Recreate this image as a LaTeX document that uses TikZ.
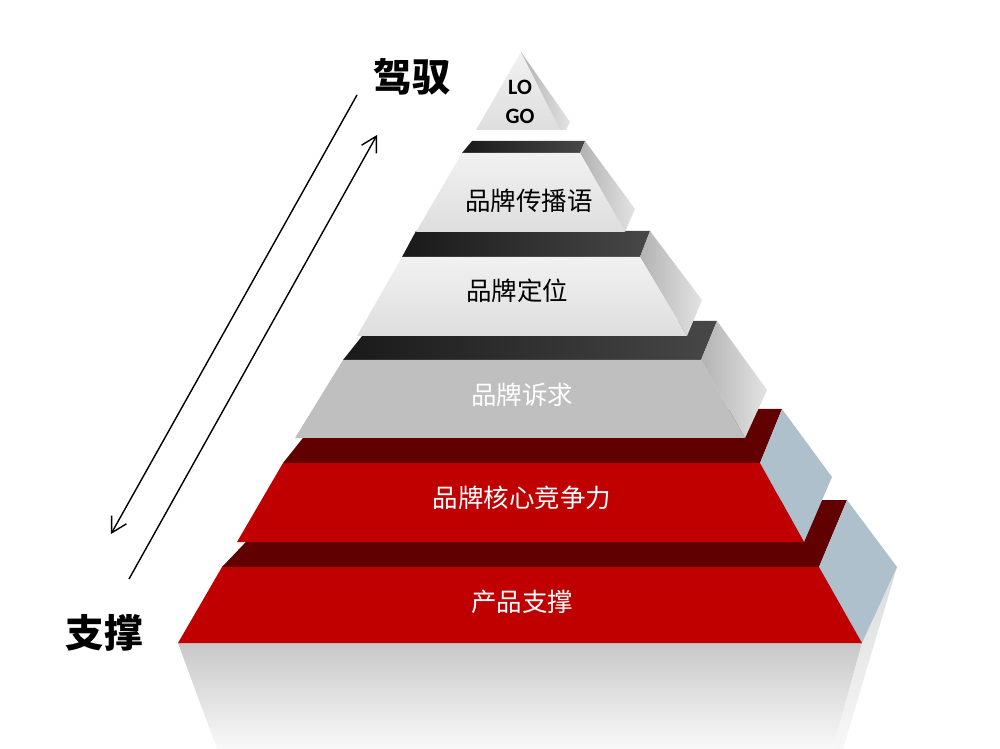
\documentclass[tikz,border=0pt]{standalone}
\usepackage{fontspec}
\usetikzlibrary{arrows.meta}
\setmainfont{Carlito}
\IfFontExistsTF{FandolSong-Regular.otf}
  {\newfontfamily\songti{FandolSong-Regular.otf}}
  {\newfontfamily\songti{Noto Sans CJK SC}}
\newfontfamily\heiti{Noto Sans CJK SC}
\definecolor{brandred}{RGB}{192,0,0}
\definecolor{darkred}{RGB}{96,0,0}
\definecolor{steelside}{RGB}{173,192,204}
\definecolor{paleA}{RGB}{241,241,241}
\definecolor{paleB}{RGB}{222,222,222}
\definecolor{midgrey}{RGB}{191,191,191}
\definecolor{mirrorA}{RGB}{200,200,200}
\definecolor{mirrorB}{RGB}{249,249,249}

\begin{document}
\begin{tikzpicture}[x=0.02cm,y=-0.02cm,>={Straight Barb[length=3mm,width=3.4mm]},
  lightfront/.style={top color=paleA,bottom color=paleB},
  greyfront/.style={fill=midgrey},
  greytop/.style={left color=black!90,right color=black!72},
  greyside/.style={left color=black!30,right color=black!11},
  redfront/.style={fill=brandred},
  redtop/.style={fill=darkred},
  redside/.style={fill=steelside},
  tier/.style={font=\songti\fontsize{14.5}{17}\selectfont},
  motto/.style={font=\heiti\bfseries\fontsize{22}{26}\selectfont},
  guide/.style={line width=0.8pt,->}]
  \useasboundingbox (0,0) rectangle (1000,749);
  % ---------------- reflection ----------------
  \shade[top color=mirrorA,bottom color=mirrorB] (178,643) -- (862,643) -- (833,749) -- (217,749) -- cycle;
  \shade[top color=black!14,bottom color=black!3] (897,567) -- (843,749) -- (833,749) -- (862,643) -- cycle;
  % ---------------- tiers, bottom first ----------------
  \foreach \tl/\tr/\bl/\br/\yt/\yb/\ktl/\ktr/\yk/\sx/\sy/\fr/\tp/\sd in {
      222/819/178/862/567/643/286/847/500/897/567/redfront/redtop/redside,
      283/760/237/804/463/542/326/782/409/832/477/redfront/redtop/redside,
      343/701/295/745/360/438/374/717/321/767/390/greyfront/greytop/greyside,
      402/640/357/687/257/336/416/650/231/702/300/lightfront/greytop/greyside,
      462/580/416/625/153/232/472/585/141/635/209/lightfront/greytop/greyside}{
    \path[\tp] (\ktl,\yk) -- (\ktr,\yk) -- (\tr,\yt) -- (\tl,\yt) -- cycle;
    \path[\sd] (\tr,\yt) -- (\ktr,\yk) -- (\sx,\sy) -- (\br,\yb) -- cycle;
    \path[\fr] (\tl,\yt) -- (\tr,\yt) -- (\br,\yb) -- (\bl,\yb) -- cycle;
  }
  % ---------------- logo cap ----------------
  \path[lightfront] (521,52) -- (560,130) -- (476,130) -- cycle;
  \path[greyside] (521,52) -- (570,122) -- (566,130) -- (560,130) -- cycle;
  \node[align=center,font=\bfseries\fontsize{12.5}{16.5}\selectfont] (logo) at (520,102) {LO\\GO};
  % ---------------- labels ----------------
  \node[tier] (slogan) at (529,201) {品牌传播语};
  \node[tier] (position) at (517,291) {品牌定位};
  \node[tier,white] (appeal) at (522,395) {品牌诉求};
  \node[tier,white] (core) at (522,498) {品牌核心竞争力};
  \node[tier,white] (product) at (522,602) {产品支撑};
  \node[motto] (drive) at (412,77) {驾驭};
  \node[motto] (hold) at (104,633) {支撑};
  % ---------------- arrows ----------------
  \coordinate (downStart) at (357,95);
  \coordinate (downEnd) at (111,534);
  \coordinate (upStart) at (129,579);
  \coordinate (upEnd) at (377,135);
  \draw[guide] (downStart) -- (downEnd);
  \draw[guide] (upStart) -- (upEnd);
\end{tikzpicture}
\end{document}
